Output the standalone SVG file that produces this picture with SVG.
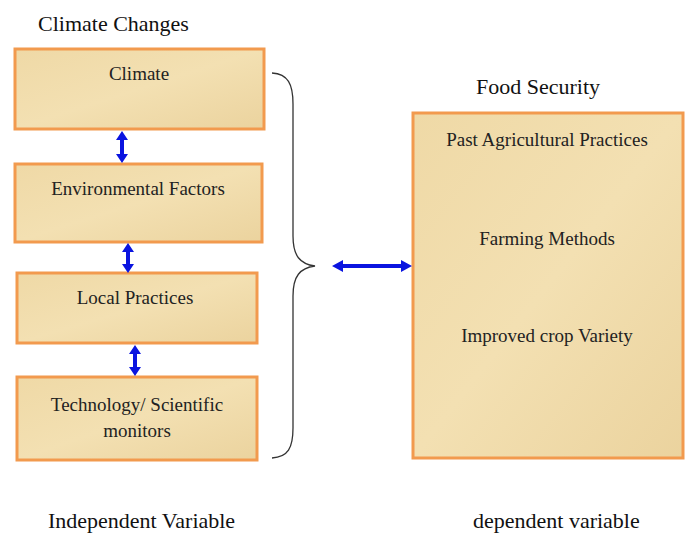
<svg xmlns="http://www.w3.org/2000/svg" width="686" height="533" viewBox="0 0 686 533">
<style>
.box{fill:url(#parch);stroke:#F29A4E;stroke-width:3}
.t{font-family:"Liberation Serif",serif;fill:#222;text-anchor:middle;font-size:19px}
.h{font-family:"Liberation Serif",serif;fill:#111;font-size:22px}
.ar{fill:#0A14E0;stroke:none}
</style>
<defs>
<linearGradient id="parch" x1="0" y1="0" x2="1" y2="1">
<stop offset="0" stop-color="#EFD9A6"/>
<stop offset="0.5" stop-color="#F3E0B2"/>
<stop offset="1" stop-color="#EBD39E"/>
</linearGradient>
</defs>
<text class="h" x="38" y="31">Climate Changes</text>
<text class="h" x="538" y="94" text-anchor="middle">Food Security</text>
<text class="h" x="48" y="528">Independent Variable</text>
<text class="h" x="473" y="528">dependent variable</text>
<g id="climate"><rect class="box" x="15" y="49" width="249" height="80"/><text class="t" x="139" y="80">Climate</text></g>
<g id="environmental"><rect class="box" x="15" y="164" width="247" height="78"/><text class="t" x="138" y="195">Environmental Factors</text></g>
<g id="local"><rect class="box" x="17" y="273" width="240" height="70"/><text class="t" x="135" y="304">Local Practices</text></g>
<g id="technology"><rect class="box" x="17" y="377" width="240" height="83"/><text class="t" x="137" y="411">Technology/ Scientific</text><text class="t" x="137" y="437">monitors</text></g>
<g id="food"><rect class="box" x="413" y="113" width="270" height="345"/><text class="t" x="547" y="146">Past Agricultural Practices</text><text class="t" x="547" y="245">Farming Methods</text><text class="t" x="547" y="342">Improved crop Variety</text></g>
<g id="connectors">
<path d="M272,73 C288,74 293,84 293,104 L293,236 C293,256 300,264 315,266 C300,268 293,276 293,296 L293,428 C293,448 288,457 272,458" fill="none" stroke="#333" stroke-width="1.3"/>
<path class="ar" d="M122,131 L128,140 L124,140 L124,154 L128,154 L122,163 L116,154 L120,154 L120,140 L116,140 Z"/>
<path class="ar" d="M128,243 L134,252 L130,252 L130,264 L134,264 L128,273 L122,264 L126,264 L126,252 L122,252 Z"/>
<path class="ar" d="M135,345 L141,354 L137,354 L137,367 L141,367 L135,376 L129,367 L133,367 L133,354 L129,354 Z"/>
<path class="ar" d="M332,266 L343,260 L343,264 L401,264 L401,260 L412,266 L401,272 L401,268 L343,268 L343,272 Z"/>
</g>
</svg>
